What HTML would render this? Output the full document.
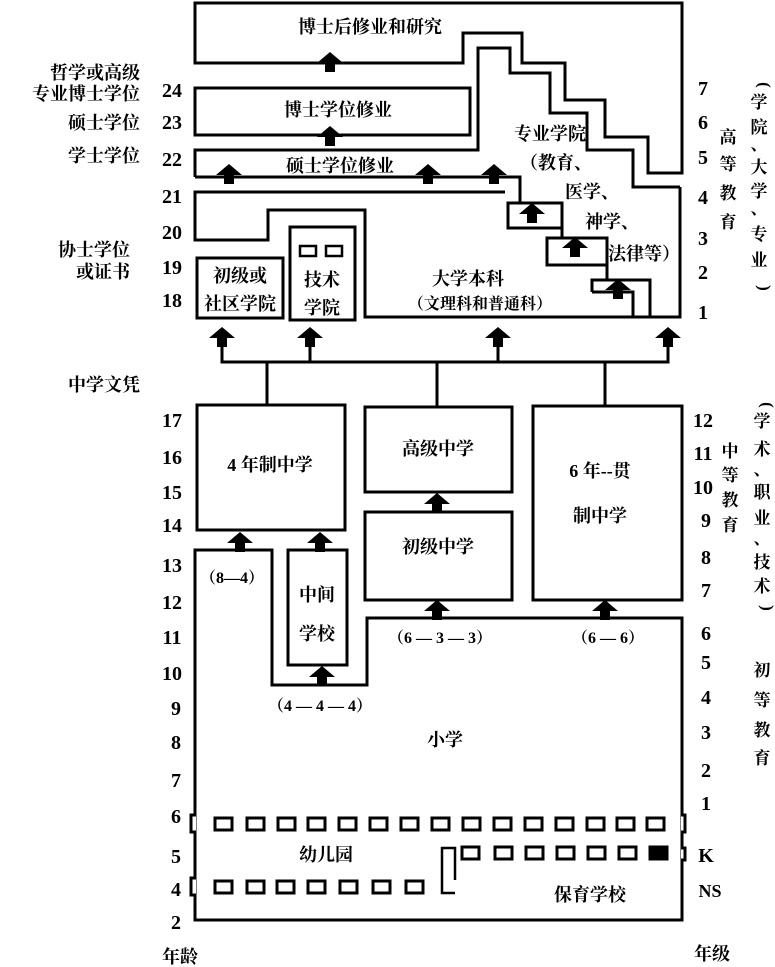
<!DOCTYPE html>
<html><head><meta charset="utf-8"><style>
html,body{margin:0;padding:0;background:#fff;}
svg{display:block;}
text{font-family:"Liberation Serif","Noto Serif CJK SC","Noto Sans CJK SC",serif;font-weight:bold;fill:#000;}
.n{font-size:20px;text-anchor:middle;}
.c{font-size:18px;}
.m{text-anchor:middle;}
</style></head><body>
<svg width="775" height="967" viewBox="0 0 775 967" xmlns="http://www.w3.org/2000/svg">
<defs>
<g id="ar"><polygon points="0,0 -13,11 -5,11 -5,20 5,20 5,11 13,11" fill="#000"/></g>
</defs>
<g fill="none" stroke="#000" stroke-width="3" stroke-linejoin="miter">
<path d="M195,63 V3 H682 V173 H648 V137 H605 V100 H565 V63 H522 V33 H463 V63 Z"/>
<path d="M195,88 H470 V135 H195 Z"/>
<path d="M195,177 V150 H478 V48 H510 V73 H550 V113 H587 V150 H633 V187 H680"/>
<path d="M195,177 H520 V203"/>
<rect x="508" y="203" width="54" height="25"/>
<path d="M562,228 V238"/>
<rect x="547" y="238" width="60" height="27"/>
<path d="M607,265 V280"/>
<path d="M592,292 V280 H650 V317"/>
<path d="M592,292 H633 V317"/>
<path d="M505,192 H195 V240 H268 V210 H365 V317 H680 V187"/>
<rect x="197" y="258" width="86" height="60"/>
<rect x="290" y="227" width="65" height="93"/>
<rect x="300" y="246" width="16" height="10" stroke-width="2.5"/>
<rect x="326" y="246" width="16" height="10" stroke-width="2.5"/>
<path d="M222,342 V362 H668 V342 M310,342 V362 M498,342 V362 M267,362 V405 M437,362 V407 M605,362 V406"/>
<rect x="197" y="405" width="148" height="125"/>
<rect x="365" y="407" width="147" height="85"/>
<rect x="365" y="512" width="147" height="88"/>
<rect x="533" y="406" width="149" height="194"/>
<path d="M195,550 H272 V685 H367 V618 H682 V920 H195 Z"/>
<rect x="288" y="550" width="59" height="115"/>
<path d="M455,880 V848 H442 V893 H455" stroke-width="2.5"/>
</g>
<g fill="#fff" stroke="#000" stroke-width="3">
<path d="M196,815 h-5 v17 h5"/>
<path d="M196,878 h-5 v17 h5"/>
<path d="M681,815 h4 v17 h-4"/>
<path d="M681,848 h4 v12 h-4"/>
</g>
<g fill="none" stroke="#000" stroke-width="3">
<rect x="215" y="818" width="17" height="12"/><rect x="247" y="818" width="17" height="12"/><rect x="278" y="818" width="17" height="12"/><rect x="308" y="818" width="17" height="12"/><rect x="339" y="818" width="17" height="12"/><rect x="370" y="818" width="17" height="12"/><rect x="401" y="818" width="17" height="12"/><rect x="432" y="818" width="17" height="12"/><rect x="463" y="818" width="17" height="12"/><rect x="494" y="818" width="17" height="12"/><rect x="525" y="818" width="17" height="12"/><rect x="556" y="818" width="17" height="12"/><rect x="587" y="818" width="17" height="12"/><rect x="617" y="818" width="17" height="12"/><rect x="647" y="818" width="17" height="12"/>
<rect x="462" y="847" width="17" height="12"/><rect x="495" y="847" width="17" height="12"/><rect x="526" y="847" width="17" height="12"/><rect x="557" y="847" width="17" height="12"/><rect x="588" y="847" width="17" height="12"/><rect x="619" y="847" width="17" height="12"/><rect x="650" y="847" width="17" height="12" fill="#000"/>
<rect x="215" y="881" width="17" height="12"/><rect x="247" y="881" width="17" height="12"/><rect x="277" y="881" width="17" height="12"/><rect x="308" y="881" width="17" height="12"/><rect x="340" y="881" width="17" height="12"/><rect x="373" y="881" width="17" height="12"/><rect x="406" y="881" width="17" height="12"/>
</g>
<use href="#ar" x="330" y="52"/>
<use href="#ar" x="330" y="126"/>
<use href="#ar" x="229" y="164"/>
<use href="#ar" x="428" y="164"/>
<use href="#ar" x="494" y="164"/>
<use href="#ar" x="532" y="203"/>
<use href="#ar" x="575" y="237"/>
<use href="#ar" x="618" y="279"/>
<use href="#ar" x="222" y="327"/>
<use href="#ar" x="310" y="327"/>
<use href="#ar" x="498" y="327"/>
<use href="#ar" x="668" y="327"/>
<use href="#ar" x="240" y="532"/>
<use href="#ar" x="320" y="532"/>
<use href="#ar" x="437" y="493"/>
<use href="#ar" x="437" y="600"/>
<use href="#ar" x="605" y="600"/>
<use href="#ar" x="322" y="666"/>
<g class="c">
<text x="370" y="33" class="m">博士后修业和研究</text>
<text x="338" y="116" class="m">博士学位修业</text>
<text x="340" y="172" class="m">硕士学位修业</text>
<text x="550" y="140" class="m">专业学院</text>
<text x="520" y="169">（教育、</text>
<text x="565" y="198">医学、</text>
<text x="585" y="228">神学、</text>
<text x="608" y="260">法律等）</text>
<text x="468" y="285" class="m">大学本科</text>
<text x="480" y="309" class="m" style="font-size:16px">（文理科和普通科）</text>
<text x="240" y="282" class="m">初级或</text>
<text x="240" y="310" class="m">社区学院</text>
<text x="322" y="286" class="m">技术</text>
<text x="322" y="314" class="m">学院</text>
<text x="270" y="471" class="m">4 年制中学</text>
<text x="438" y="455" class="m">高级中学</text>
<text x="438" y="553" class="m">初级中学</text>
<text x="600" y="477" class="m">6 年--贯</text>
<text x="600" y="522" class="m">制中学</text>
<text x="317" y="601" class="m">中间</text>
<text x="317" y="640" class="m">学校</text>
<text x="445" y="746" class="m">小学</text>
<text x="326" y="861" class="m">幼儿园</text>
<text x="590" y="901" class="m">保育学校</text>
</g>
<g style="font-size:16px">
<text x="232" y="583" class="m">（8—4）</text>
<text x="440" y="643" class="m">（6 — 3 — 3）</text>
<text x="608" y="643" class="m">（6 — 6）</text>
<text x="320" y="711" class="m">（4 — 4 — 4）</text>
</g>
<g class="c" text-anchor="end">
<text x="140" y="79">哲学或高级</text>
<text x="140" y="100">专业博士学位</text>
<text x="140" y="129">硕士学位</text>
<text x="140" y="162">学士学位</text>
<text x="130" y="256">协士学位</text>
<text x="130" y="278">或证书</text>
<text x="140" y="391">中学文凭</text>
</g>
<g class="n">
<text x="172" y="97">24</text><text x="172" y="129">23</text><text x="172" y="166">22</text><text x="172" y="203">21</text><text x="172" y="239">20</text><text x="172" y="274">19</text><text x="172" y="307">18</text>
<text x="172" y="427">17</text><text x="172" y="464">16</text><text x="172" y="499">15</text><text x="172" y="532">14</text><text x="172" y="572">13</text><text x="172" y="609">12</text><text x="172" y="644">11</text><text x="172" y="680">10</text><text x="176" y="715">9</text><text x="176" y="749">8</text><text x="176" y="787">7</text><text x="176" y="823">6</text><text x="176" y="863">5</text><text x="176" y="896">4</text><text x="176" y="929">2</text>
<text x="703" y="95">7</text><text x="703" y="129">6</text><text x="703" y="164">5</text><text x="703" y="204">4</text><text x="703" y="245">3</text><text x="703" y="279">2</text><text x="703" y="319">1</text>
<text x="703" y="427">12</text><text x="703" y="460">11</text><text x="703" y="494">10</text><text x="706" y="527">9</text><text x="706" y="564">8</text><text x="706" y="597">7</text><text x="706" y="640">6</text><text x="706" y="669">5</text><text x="706" y="704">4</text><text x="706" y="739">3</text><text x="706" y="777">2</text><text x="706" y="810">1</text>
<text x="706" y="862">K</text><text x="710" y="897" style="font-size:18px">NS</text>
</g>
<text x="180" y="963" class="c m">年龄</text>
<text x="712" y="960" class="c m">年级</text>
<g class="c m" style="font-size:17px">
<text x="728" y="143">高</text><text x="728" y="170">等</text><text x="728" y="199">教</text><text x="728" y="228">育</text>
<text x="759" y="85" transform="rotate(90 759 85)" style="text-anchor:middle">(</text>
<text x="759" y="108">学</text><text x="759" y="133">院</text><text x="759" y="150">、</text><text x="759" y="173">大</text><text x="759" y="197">学</text><text x="759" y="214">、</text><text x="759" y="240">专</text><text x="759" y="266">业</text>
<text x="759" y="288" transform="rotate(90 759 288)" style="text-anchor:middle">)</text>
<text x="730" y="457">中</text><text x="730" y="481">等</text><text x="730" y="506">教</text><text x="730" y="531">育</text>
<text x="762" y="405" transform="rotate(90 762 405)" style="text-anchor:middle">(</text>
<text x="762" y="427">学</text><text x="762" y="455">术</text><text x="762" y="475">、</text><text x="762" y="498">职</text><text x="762" y="524">业</text><text x="762" y="544">、</text><text x="762" y="568">技</text><text x="762" y="592">术</text>
<text x="762" y="608" transform="rotate(90 762 608)" style="text-anchor:middle">)</text>
<text x="762" y="676">初</text><text x="762" y="706">等</text><text x="762" y="736">教</text><text x="762" y="764">育</text>
</g>
</svg>
</body></html>
